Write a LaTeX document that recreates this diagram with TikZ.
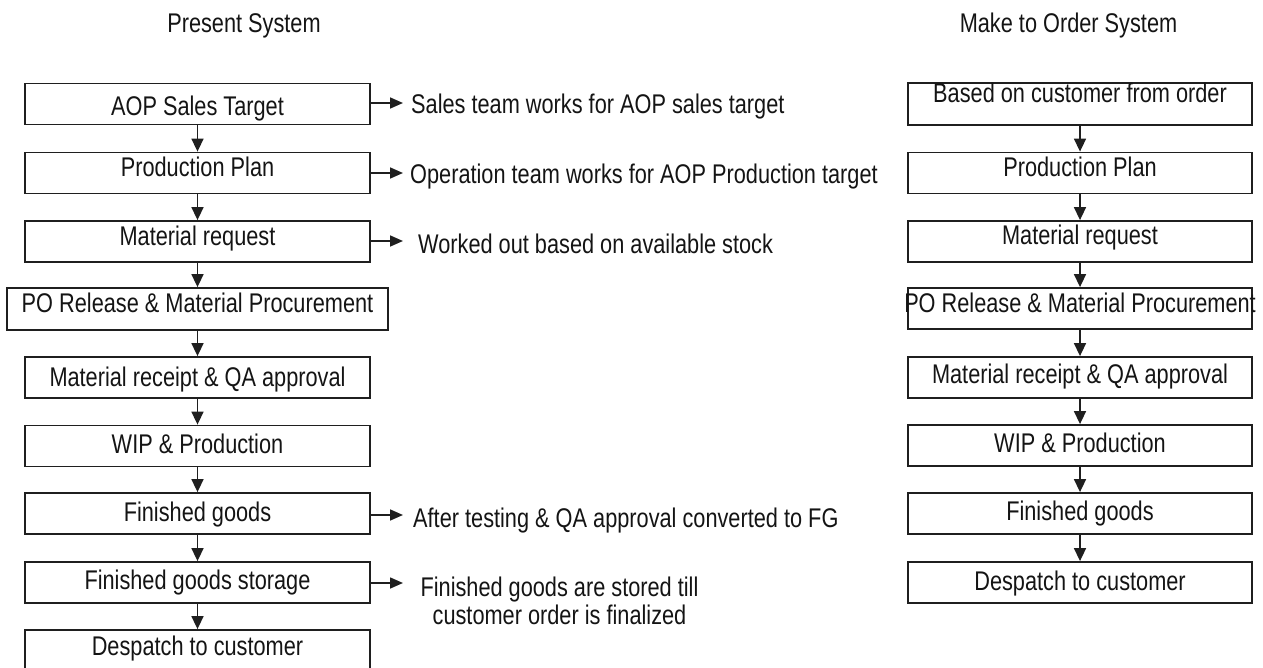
\documentclass[tikz,border=0pt]{standalone}
\usepackage{fontspec}
\setmainfont[FakeStretch=0.805]{Liberation Sans}
\usetikzlibrary{arrows.meta}
\begin{document}
\begin{tikzpicture}[x=1pt,y=-1pt,
  every node/.style={font=\fontsize{27}{28}\selectfont, text=black!92},
  box/.style={draw=black!88, line width=1.8pt, minimum width=345pt, minimum height=41pt,
              inner sep=0pt, text height=19.3pt, text depth=0pt},
  rbox/.style={box, minimum width=344pt},
  up/.style={text depth=#1},
  down/.style={text height=#1},
  flow/.style={draw=black!88, line width=1.6pt, -{Triangle[length=13pt,width=12pt]}},
  sideflow/.style={draw=black!88, line width=1.6pt, -{Triangle[length=13pt,width=11pt]}},
  side/.style={anchor=west, inner sep=0pt, text height=19.3pt, text depth=0pt},
  title/.style={inner sep=0pt, text height=19.3pt, text depth=0pt}]
\useasboundingbox (0,0) rectangle (1263,668);

% titles
\node[title] (t1) at (244,22.5) {Present System};
\node[title] (t2) at (1068.5,22.5) {Make to Order System};

% left column
\node[box,down=23.3pt] (L1) at (197.5,104) {AOP Sales Target};
\node[box,up=12pt] (L2) at (197.5,173) {Production Plan};
\node[box,up=12pt] (L3) at (197.5,241.5) {Material request};
\node[box,minimum width=381pt,minimum height=42pt,up=13pt] (L4) at (197.5,309)
  {\makebox[0pt]{PO Release \& Material Procurement}};
\node[box,up=2pt] (L5) at (197.5,377.5) {Material receipt \& QA approval};
\node[box,up=4pt] (L6) at (197.5,446) {WIP \& Production};
\node[box,up=4pt] (L7) at (197.5,513.5) {Finished goods};
\node[box,up=6pt] (L8) at (197.5,582.5) {Finished goods storage};
\node[box,up=9pt] (L9) at (197.5,650.5) {Despatch to customer};

\draw[flow] (L1) -- (L2);
\draw[flow] (L2) -- (L3);
\draw[flow] (L3) -- (L4);
\draw[flow] (L4) -- (L5);
\draw[flow] (L5) -- (L6);
\draw[flow] (L6) -- (L7);
\draw[flow] (L7) -- (L8);
\draw[flow] (L8) -- (L9);

% side notes
\node[side] (T1) at (411,104) {Sales team works for AOP sales target};
\node[side] (T2) at (410,174) {Operation team works for AOP Production target};
\node[side] (T3) at (418,244) {Worked out based on available stock};
\node[side] (T4) at (413,517.5) {After testing \& QA approval converted to FG};
\node[anchor=north, inner sep=0pt, align=center] (T5) at (559.5,577)
  {Finished goods are stored till\\customer order is finalized};

\coordinate (a1) at (403,103);
\coordinate (a2) at (403,173);
\coordinate (a3) at (403,241);
\coordinate (a4) at (403,515);
\coordinate (a5) at (403,583);
\draw[sideflow] (L1.east |- a1) -- (a1);
\draw[sideflow] (L2.east |- a2) -- (a2);
\draw[sideflow] (L3.east |- a3) -- (a3);
\draw[sideflow] (L7.east |- a4) -- (a4);
\draw[sideflow] (L8.east |- a5) -- (a5);

% right column
\node[rbox,up=22pt] (R1) at (1080,104) {Based on customer from order};
\node[rbox,up=12pt] (R2) at (1080,173) {Production Plan};
\node[rbox,up=14pt] (R3) at (1080,241.5) {Material request};
\node[rbox,up=12pt] (R4) at (1080,308.5) {\makebox[0pt]{PO Release \& Material Procurement}};
\node[rbox,up=8pt] (R5) at (1080,377.5) {Material receipt \& QA approval};
\node[rbox,up=6pt] (R6) at (1080,445.5) {WIP \& Production};
\node[rbox,up=5pt] (R7) at (1080,513.5) {Finished goods};
\node[rbox,up=3pt] (R8) at (1080,582.5) {Despatch to customer};

\draw[flow] (R1) -- (R2);
\draw[flow] (R2) -- (R3);
\draw[flow] (R3) -- (R4);
\draw[flow] (R4) -- (R5);
\draw[flow] (R5) -- (R6);
\draw[flow] (R6) -- (R7);
\draw[flow] (R7) -- (R8);
\end{tikzpicture}
\end{document}
